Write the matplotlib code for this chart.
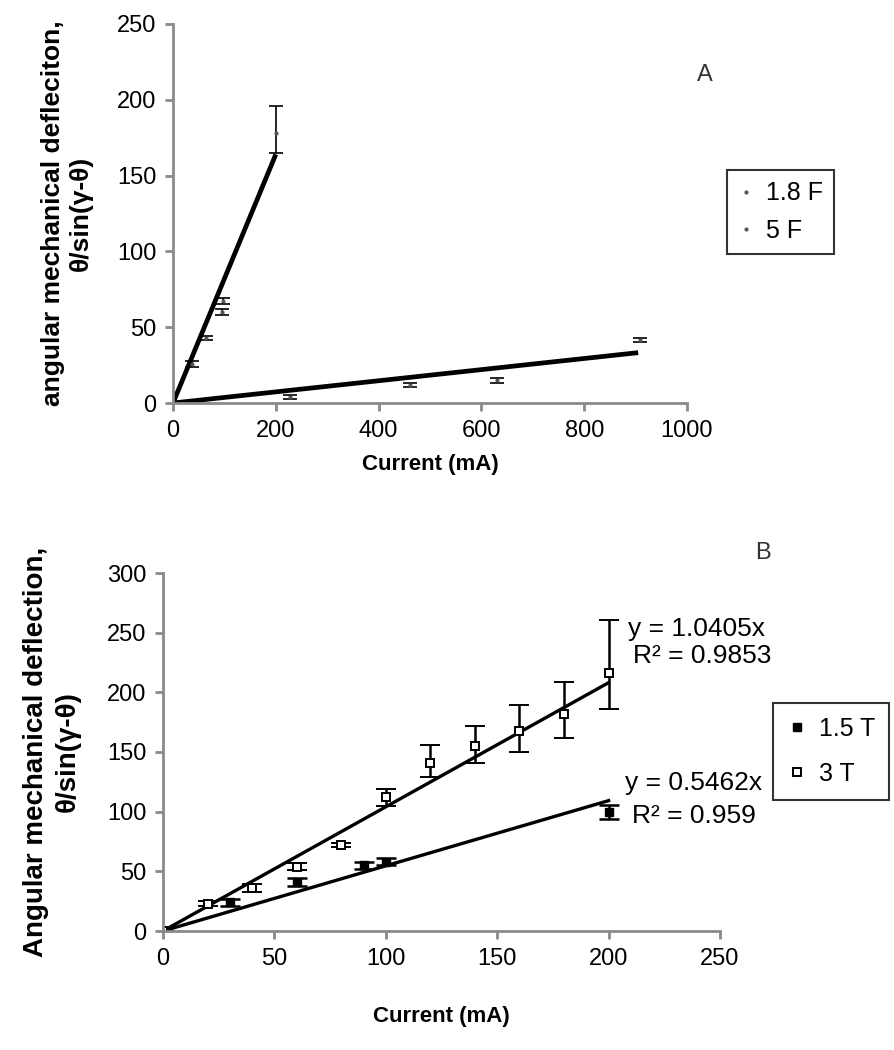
import numpy as np
import matplotlib
matplotlib.use("Agg")
from matplotlib import pyplot as plt
from matplotlib.lines import Line2D

plt.rcParams['font.family'] = ['Liberation Sans', 'DejaVu Sans']

# ---- panel A data ----
a18_x = [36, 65, 95, 98, 200]
a18_y = [26, 43, 60, 67, 178]
a18_err_lo = [2, 1.5, 2, 2, 13]
a18_err_hi = [2, 1.5, 2, 2, 18]
a18_slope = 0.82
a18_xmax = 200

a5_x = [228, 461, 630, 909]
a5_y = [4, 12, 15, 41.5]
a5_err = [1.5, 1.5, 1.5, 1.5]
a5_slope = 0.0367
a5_xmax = 905

# ---- panel B data ----
b3_x = [0, 20, 40, 60, 80, 100, 120, 140, 160, 180, 200]
b3_y = [0, 23, 36, 54, 72, 112, 141, 155, 168, 182, 216]
b3_err_lo = [0, 2, 3, 3, 2, 7, 12, 14, 18, 20, 30]
b3_err_hi = [0, 2, 3, 3, 2, 7, 15, 17, 21, 27, 45]
b3_slope = 1.0405
b3_r2 = 0.9853

b15_x = [0, 30, 60, 90, 100, 200]
b15_y = [0, 24, 41, 55, 58, 100]
b15_err = [0, 3, 3, 3, 3, 6]
b15_slope = 0.5462
b15_r2 = 0.959

W, H = 894, 1050
fig = plt.figure(figsize=(W / 100, H / 100), dpi=100)
spine_col = '#8a8a8a'
tick_fs = 17
xlab_fs = 16
leg_fs = 18


def px_axes(left, top, right, bottom):
    return fig.add_axes([left / W, 1 - bottom / H, (right - left) / W, (bottom - top) / H])


def style(ax):
    for s in ['top', 'right']:
        ax.spines[s].set_visible(False)
    for s in ['left', 'bottom']:
        ax.spines[s].set_color(spine_col)
        ax.spines[s].set_linewidth(2)
    ax.tick_params(direction='out', length=6, width=2, color=spine_col,
                   labelsize=tick_fs, pad=6)


# ---- panel A ----
axA = px_axes(173, 24, 687, 403)
style(axA)
axA.set_xlim(0, 1000)
axA.set_ylim(0, 250)
axA.set_xticks(np.arange(0, 1001, 200))
axA.set_yticks(np.arange(0, 251, 50))

xx = np.array([0, a18_xmax])
axA.plot(xx, a18_slope * xx, color='black', lw=3.4, solid_capstyle='butt')
xx = np.array([0, a5_xmax])
axA.plot(xx, a5_slope * xx, color='black', lw=3.4, solid_capstyle='butt')
axA.errorbar(a18_x, a18_y, yerr=[a18_err_lo, a18_err_hi], fmt='o', ms=2,
             color='#555555', ecolor='black', elinewidth=1.2, capsize=5, capthick=1.2)
axA.errorbar(a5_x, a5_y, yerr=a5_err, fmt='o', ms=2,
             color='#555555', ecolor='black', elinewidth=1.2, capsize=5, capthick=1.2)
axA.set_xlabel('Current (mA)', fontsize=xlab_fs, fontweight='bold', labelpad=9)
axA.set_ylabel('angular mechanical defleciton,\n\u03b8/sin(\u03b3-\u03b8)',
               fontsize=19, fontweight='bold', labelpad=17, linespacing=1.25)
fig.text(705 / W, 1 - 75 / H, 'A', fontsize=17, color='#333333', ha='center', va='center')

hA = [Line2D([], [], ls='none', marker='o', ms=2, color='#555555'),
      Line2D([], [], ls='none', marker='o', ms=2, color='#555555')]
legA = fig.legend(hA, ['1.8 F', '5 F'], loc='upper left',
                  bbox_to_anchor=(727 / W, 1 - 170 / H), borderaxespad=0, fontsize=leg_fs,
                  frameon=True, fancybox=False, edgecolor='black',
                  handlelength=0.6, handletextpad=0.5, borderpad=0.45, labelspacing=0.55)
legA.get_frame().set_linewidth(1.5)

# ---- panel B ----
axB = px_axes(163, 573, 720, 931)
style(axB)
axB.set_xlim(0, 250)
axB.set_ylim(0, 300)
axB.set_xticks(np.arange(0, 251, 50))
axB.set_yticks(np.arange(0, 301, 50))

xx = np.array([0, 200])
axB.plot(xx, b3_slope * xx, color='black', lw=2.4)
axB.plot(xx, b15_slope * xx, color='black', lw=2.4)
axB.errorbar(b15_x, b15_y, yerr=b15_err, fmt='s', ms=6, mfc='black', mec='black',
             ecolor='black', elinewidth=1.8, capsize=7, capthick=1.8)
axB.errorbar(b3_x, b3_y, yerr=[b3_err_lo, b3_err_hi], fmt='s', ms=6, mfc='white',
             mec='black', mew=1.4, ecolor='black', elinewidth=1.8, capsize=7, capthick=1.8)
axB.set_xlabel('Current (mA)', fontsize=xlab_fs, fontweight='bold', labelpad=26)
axB.set_ylabel('Angular mechanical deflection,\n\u03b8/sin(\u03b3-\u03b8)',
               fontsize=20, fontweight='bold', labelpad=19, linespacing=1.3)
fig.text(763 / W, 1 - 553 / H, 'B', fontsize=17, color='#333333', ha='center', va='center')

eq_fs = 19
fig.text(628 / W, 1 - 629 / H, 'y = %.4fx' % b3_slope, fontsize=eq_fs, va='center')
fig.text(633 / W, 1 - 656 / H, 'R\u00b2 = %.4f' % b3_r2, fontsize=eq_fs, va='center')
fig.text(625 / W, 1 - 783 / H, 'y = %.4fx' % b15_slope, fontsize=eq_fs, va='center')
fig.text(632 / W, 1 - 816 / H, 'R\u00b2 = %.3f' % b15_r2, fontsize=eq_fs, va='center')

hB = [Line2D([], [], ls='none', marker='s', ms=6, mfc='black', mec='black'),
      Line2D([], [], ls='none', marker='s', ms=6, mfc='white', mec='black', mew=1.4)]
legB = fig.legend(hB, ['1.5 T', '3 T'], loc='upper left',
                  bbox_to_anchor=(773 / W, 1 - 703 / H), borderaxespad=0, fontsize=leg_fs,
                  frameon=True, fancybox=False, edgecolor='black',
                  handlelength=0.8, handletextpad=0.5, borderpad=0.55, labelspacing=0.85)
legB.get_frame().set_linewidth(1.5)

fig.savefig('out.png', dpi=100)
